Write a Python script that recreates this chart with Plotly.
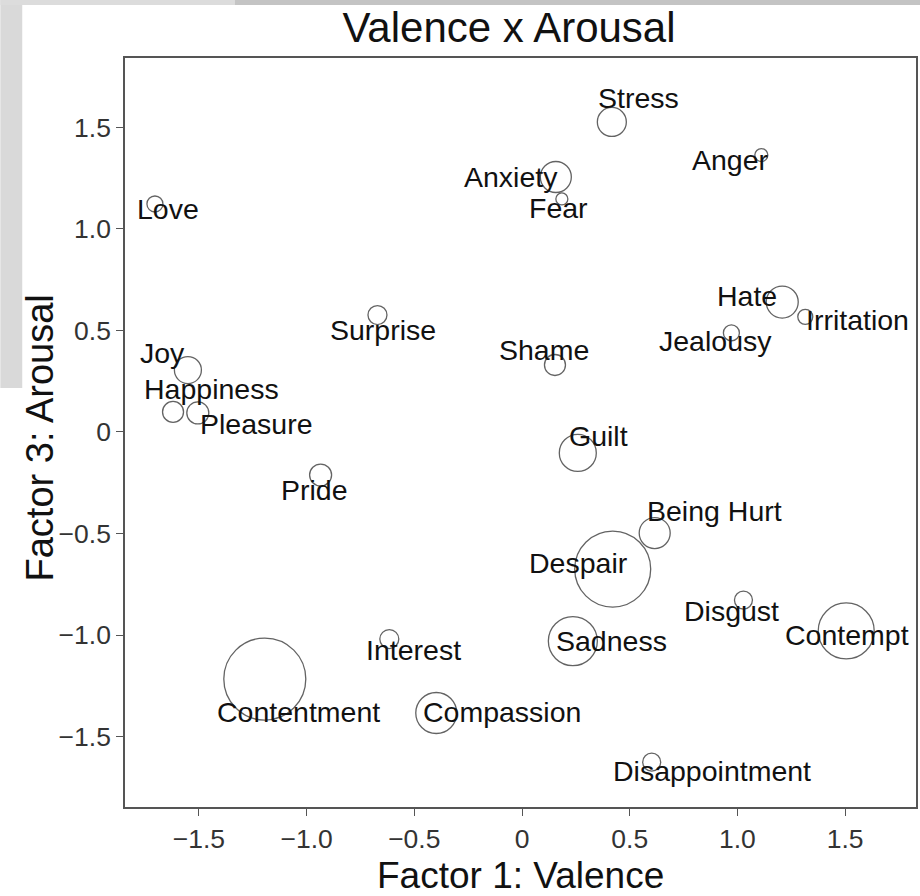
import plotly.graph_objects as go

# ---- data ----
emotions = ["Love", "Surprise", "Joy", "Happiness", "Pleasure", "Stress", "Anger",
            "Anxiety", "Fear", "Hate", "Irritation", "Jealousy", "Shame", "Guilt",
            "Pride", "Contentment", "Interest", "Compassion", "Despair", "Being Hurt",
            "Disgust", "Contempt", "Sadness", "Disappointment"]
valence = [-1.704, -0.671, -1.551, -1.620, -1.505, 0.417, 1.111,
           0.157, 0.185, 1.208, 1.315, 0.972, 0.153, 0.259,
           -0.935, -1.194, -0.616, -0.398, 0.421, 0.616,
           1.028, 1.505, 0.236, 0.602]
arousal = [1.123, 0.576, 0.305, 0.099, 0.094, 1.527, 1.364,
           1.256, 1.148, 0.640, 0.567, 0.488, 0.330, -0.103,
           -0.212, -1.217, -1.020, -1.384, -0.675, -0.498,
           -0.828, -0.980, -1.030, -1.626]
bubble = [16, 19, 27, 21, 22, 29, 13,
          31, 12, 32, 15, 16, 21, 37,
          22, 82, 19, 41, 76, 31,
          18, 56, 49, 18]

x_ticks = [-1.5, -1.0, -0.5, 0, 0.5, 1.0, 1.5]
x_tick_labels = ["\u22121.5", "\u22121.0", "\u22120.5", "0", "0.5", "1.0", "1.5"]
y_ticks = [-1.5, -1.0, -0.5, 0, 0.5, 1.0, 1.5]
y_tick_labels = ["\u22121.5", "\u22121.0", "\u22120.5", "0", "0.5", "1.0", "1.5"]

# label offsets from bubble centre, in pixels (layout only)
label_dx = [13, 6, -25, 38, 58, 27, -31, -45, -3, -35, 52, -16, -11, 21,
            -6, 34, 24, 66, -34, 60, -12, 1, 39, 60]
label_dy = [-7, -17, 15, 21, -13, 22, -7, -2, -11, 4, -5, -10, 13, 15,
            -17, -35, -13, -1, 4, 20, -13, -6, -2, -11]

FONT = "Liberation Sans, Arial, Helvetica, sans-serif"

fig = go.Figure()
fig.add_trace(go.Scatter(
    x=valence, y=arousal, mode="markers",
    marker=dict(size=bubble, sizemode="diameter", color="rgba(0,0,0,0)",
                line=dict(color="#222222", width=1.3)),
    hoverinfo="text", text=emotions, showlegend=False, cliponaxis=False,
))

annotations = []
for name, xv, yv, dx, dy in zip(emotions, valence, arousal, label_dx, label_dy):
    annotations.append(dict(
        x=xv, y=yv, xref="x", yref="y", text=name, showarrow=False,
        xshift=dx, yshift=dy + 2, xanchor="center", yanchor="middle",
        font=dict(family=FONT, size=28.5, color="#111111"),
    ))

# axis titles
annotations.append(dict(
    x=0.5, y=0, xref="paper", yref="paper", text="Factor 1: Valence",
    showarrow=False, yshift=-68, xanchor="center", yanchor="middle",
    font=dict(family=FONT, size=37, color="#111111"),
))
annotations.append(dict(
    x=0, y=0.5, xref="paper", yref="paper", text="Factor 3: Arousal",
    showarrow=False, xshift=-86, yshift=-6, textangle=-90,
    xanchor="center", yanchor="middle",
    font=dict(family=FONT, size=38, color="#111111"),
))

shapes = [
    # scanned-page edges
    dict(type="rect", xref="paper", yref="paper", x0=-0.1576, x1=-0.1299,
         y0=0.5594, y1=1.08, fillcolor="#d9d9d9", line=dict(width=0), layer="below"),
    dict(type="rect", xref="paper", yref="paper", x0=-0.1576, x1=0.139,
         y0=1.0708, y1=1.08, fillcolor="#dcdcdc", line=dict(width=0), layer="below"),
    dict(type="rect", xref="paper", yref="paper", x0=0.139, x1=1.01,
         y0=1.0708, y1=1.08, fillcolor="#c4c4c4", line=dict(width=0), layer="below"),
]

fig.update_layout(
    width=920, height=896,
    margin=dict(l=125, r=2, t=58, b=89),
    paper_bgcolor="white", plot_bgcolor="white",
    title=dict(text="Valence x Arousal", x=0.4855, xref="paper", xanchor="center",
               y=0.969, yref="container", yanchor="middle",
               font=dict(family=FONT, size=42, color="#111111")),
    annotations=annotations, shapes=shapes,
    xaxis=dict(range=[-1.843, 1.829], tickvals=x_ticks, ticktext=x_tick_labels,
               showgrid=False, zeroline=False, showline=True, mirror=True,
               linecolor="#555555", linewidth=1.5, ticks="outside", ticklen=7,
               tickcolor="#555555", tickfont=dict(family=FONT, size=26.5, color="#333333")),
    yaxis=dict(range=[-1.847, 1.842], tickvals=y_ticks, ticktext=y_tick_labels,
               showgrid=False, zeroline=False, showline=True, mirror=True,
               linecolor="#555555", linewidth=1.5, ticks="outside", ticklen=7,
               tickcolor="#555555", tickfont=dict(family=FONT, size=26.5, color="#333333")),
)

fig.write_html("out.html", config={"displayModeBar": False},
               post_script="document.body.style.margin='0px';")
